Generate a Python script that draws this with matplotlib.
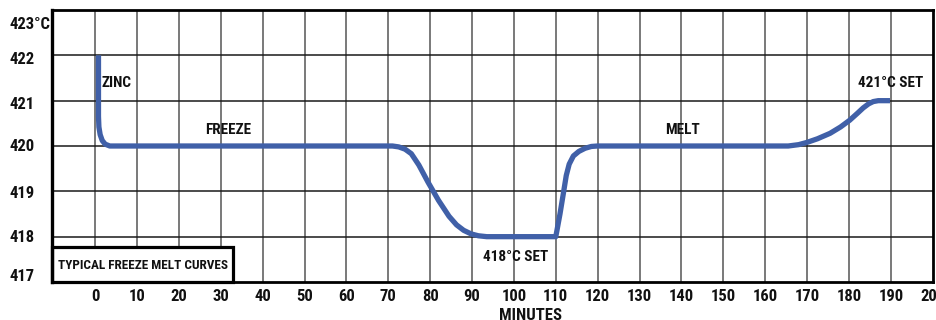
import matplotlib
matplotlib.use("Agg")
import matplotlib.pyplot as plt
from matplotlib.patches import Rectangle

plt.rcParams['font.family'] = ['Roboto Condensed', 'DejaVu Sans']
plt.rcParams['font.stretch'] = 'condensed'
plt.rcParams['font.weight'] = 'bold'

# curve (minutes, deg C)
minutes = [0.8, 0.8, 0.9, 1.2, 1.7, 2.4, 3.5, 20, 40, 60, 71.0, 72.5, 74.0, 75.5,
           77.3, 79.5, 82.0, 84.5, 86.3, 88.0, 89.8, 91.5, 93.5, 96.0, 105, 110.0,
           111.0, 111.8, 112.5, 113.2, 114.2, 115.5, 117.0, 118.5, 120.0, 140, 160,
           165.5, 168.0, 170.0, 172.5, 175.5, 178.0, 180.2, 182.0, 183.4, 184.7,
           185.8, 187.0, 188.0, 189.8]
temps = [422.0, 420.65, 420.42, 420.25, 420.12, 420.04, 420.0, 420.0, 420.0, 420.0,
         420.0, 419.98, 419.93, 419.83, 419.58, 419.2, 418.8, 418.45, 418.26, 418.14,
         418.06, 418.02, 418.0, 418.0, 418.0, 418.0, 418.5, 418.95, 419.35, 419.6,
         419.78, 419.88, 419.95, 419.99, 420.0, 420.0, 420.0, 420.0, 420.03, 420.08,
         420.16, 420.28, 420.42, 420.57, 420.72, 420.84, 420.93, 420.98, 421.0,
         421.0, 421.0]

xticks = list(range(0, 210, 10))
xgrid = list(range(0, 200, 10))
ygrid = [418, 419, 420, 421, 422]
yvals = [417, 418, 419, 420, 421, 422, 423]
ylabels = ['417', '418', '419', '420', '421', '422', '423°C']
ylabel_shift = [6, -1, -2, 0, -4, -4, -14]   # pixels, labels sit off the lines a bit

notes = [("ZINC", 5.2, 421.39),
         ("FREEZE", 31.7, 420.36),
         ("MELT", 140.3, 420.36),
         ("418°C SET", 100.5, 417.56),
         ("421°C SET", 190.0, 421.39)]

fig = plt.figure(figsize=(9.37, 3.2), dpi=100)
ax = fig.add_axes([52/937, 38/320, 880.7/937, 272/320])
ax.set_xlim(-10.3, 200)
ax.set_ylim(417, 423)

for gx in xgrid:
    ax.axvline(gx, color='#555555', lw=1.1, zorder=1)
for gy in ygrid:
    ax.axhline(gy, color='#1a1a1a', lw=1.1, zorder=1)

ax.plot(minutes, temps, color='#4060a8', lw=3.8, solid_capstyle='butt',
        solid_joinstyle='round', zorder=3)

for txt, x, y in notes:
    ax.text(x, y, txt, ha='center', va='center', fontsize=11, color='#111111', zorder=4)

# label box in the lower left corner
box = Rectangle((-10.3, 417), 43.2, 0.77, facecolor='white', edgecolor='black',
                lw=2.3, zorder=5, clip_on=False)
ax.add_patch(box)
ax.text(11.5, 417.37, "TYPICAL FREEZE MELT CURVES", ha='center', va='center',
        fontsize=9.5, color='#111111', zorder=6)

for s in ax.spines.values():
    s.set_linewidth(2.0)
    s.set_color('black')
    s.set_zorder(6)
ax.spines['left'].set_linewidth(2.4)

ax.set_xticks(xticks)
ax.set_xticklabels([str(v) for v in xticks], fontsize=12, color='#111111')
ax.tick_params(axis='x', length=0, pad=5)
ax.set_yticks([])

for v, lab, dy in zip(yvals, ylabels, ylabel_shift):
    ax.annotate(lab, xy=(10/937, v), xycoords=('figure fraction', 'data'),
                xytext=(0, dy), textcoords='offset pixels', ha='left', va='center',
                fontsize=12, color='#111111', annotation_clip=False)

ax.annotate("MINUTES", xy=(104, 0), xycoords=('data', 'axes fraction'),
            xytext=(0, -33), textcoords='offset pixels', ha='center', va='center',
            fontsize=12, color='#111111', annotation_clip=False)

fig.savefig("out.png", dpi=100)
